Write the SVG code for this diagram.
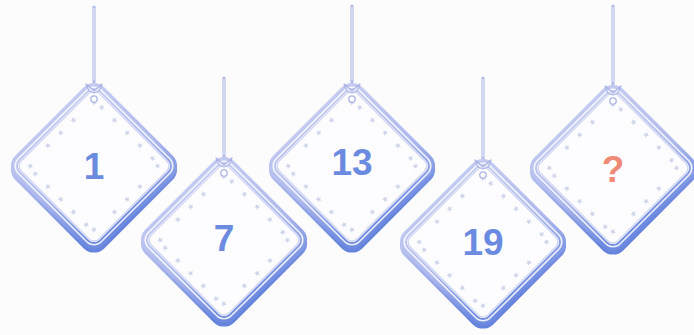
<svg xmlns="http://www.w3.org/2000/svg" xmlns:xlink="http://www.w3.org/1999/xlink" width="694" height="335" viewBox="0 0 694 335">
  <style>
    .num { font-family: "Liberation Sans", Arial, sans-serif; font-weight: bold; font-size: 37px; fill: #6b8be0; text-anchor: middle; }
    .q { fill: #ef8a78; }
    .str-out { stroke: #b3bbe8; stroke-width: 3.2; fill: none; stroke-linecap: round; }
    .str-in { stroke: #f4f5fd; stroke-width: 1; fill: none; }
  </style>
  <defs>
    <linearGradient id="frame" x1="0" y1="0.35" x2="1" y2="0.65">
      <stop offset="0" stop-color="#c3caf1"/>
      <stop offset="0.55" stop-color="#adb8ed"/>
      <stop offset="1" stop-color="#6f8be0"/>
    </linearGradient>
    <linearGradient id="dark" x1="0" y1="0.35" x2="1" y2="0.65">
      <stop offset="0" stop-color="#c8cff2"/>
      <stop offset="0.6" stop-color="#93a5e8"/>
      <stop offset="1" stop-color="#6683dd"/>
    </linearGradient>
    <path id="star" d="M0,-3 L0.9,-1 3,-0.9 1.4,0.5 1.8,2.6 0,1.5 -1.8,2.6 -1.4,0.5 -3,-0.9 -0.9,-1Z" fill="#cfd5ea"/>
    <g id="tagShape">
      <g transform="rotate(45)">
        <rect x="-57" y="-57" width="119" height="119" rx="11" fill="none" stroke="url(#dark)" stroke-width="7"/>
        <rect x="-59.5" y="-59.5" width="119" height="119" rx="11" fill="#fdfdff" stroke="url(#frame)" stroke-width="7"/>
        <rect x="-58.7" y="-58.7" width="117.4" height="117.4" rx="10.2" fill="none" stroke="#ffffff" stroke-width="1.6" opacity="0.85"/>
        <rect x="-55" y="-55" width="110" height="110" rx="7" fill="none" stroke="#cbd2f3" stroke-width="1.2"/>
        <g>
          <use href="#star" x="-36" y="-47"/><use href="#star" x="-18" y="-47"/><use href="#star" x="0" y="-47"/><use href="#star" x="18" y="-47"/><use href="#star" x="36" y="-47"/>
          <use href="#star" x="-36" y="47"/><use href="#star" x="-18" y="47"/><use href="#star" x="0" y="47"/><use href="#star" x="18" y="47"/><use href="#star" x="36" y="47"/>
          <use href="#star" x="-47" y="-18"/><use href="#star" x="-47" y="0"/><use href="#star" x="-47" y="18"/>
          <use href="#star" x="47" y="-18"/><use href="#star" x="47" y="0"/><use href="#star" x="47" y="18"/>
          <use href="#star" x="-45" y="-45"/><use href="#star" x="45" y="45"/><use href="#star" x="-45" y="45"/><use href="#star" x="45" y="-45"/>
        </g>
      </g>
      <circle cx="0" cy="-67" r="3.2" fill="#ffffff" stroke="#a9b3e6" stroke-width="1.3"/>
      <path d="M-8,-82 L0,-75 L8,-82 L5,-75 L0,-73 L-5,-75 Z" fill="#eef0fb" stroke="#a9b3e6" stroke-width="1.2" stroke-linejoin="round"/>
    </g>
  </defs>
  <rect width="694" height="335" fill="#fcfcfd"/>

  <g id="strings">
    <line class="str-out" x1="94" y1="7" x2="94" y2="82"/><line class="str-in" x1="94" y1="8" x2="94" y2="80"/>
    <line class="str-out" x1="224" y1="78" x2="224" y2="157"/><line class="str-in" x1="224" y1="79" x2="224" y2="155"/>
    <line class="str-out" x1="352" y1="6" x2="352" y2="82"/><line class="str-in" x1="352" y1="7" x2="352" y2="80"/>
    <line class="str-out" x1="483" y1="78" x2="483" y2="159"/><line class="str-in" x1="483" y1="79" x2="483" y2="157"/>
    <line class="str-out" x1="613" y1="6" x2="613" y2="84"/><line class="str-in" x1="613" y1="7" x2="613" y2="82"/>
  </g>

  <g id="tag-1" transform="translate(94,166)">
    <use href="#tagShape"/>
    <text class="num" x="0" y="13">1</text>
  </g>
  <g id="tag-7" transform="translate(224,240)">
    <use href="#tagShape"/>
    <text class="num" x="0" y="11">7</text>
  </g>
  <g id="tag-13" transform="translate(352,166)">
    <use href="#tagShape"/>
    <text class="num" x="0" y="9">13</text>
  </g>
  <g id="tag-19" transform="translate(483,242)">
    <use href="#tagShape"/>
    <text class="num" x="0" y="13">19</text>
  </g>
  <g id="tag-q" transform="translate(613,168)">
    <use href="#tagShape"/>
    <text class="num q" x="0" y="14">?</text>
  </g>
</svg>
